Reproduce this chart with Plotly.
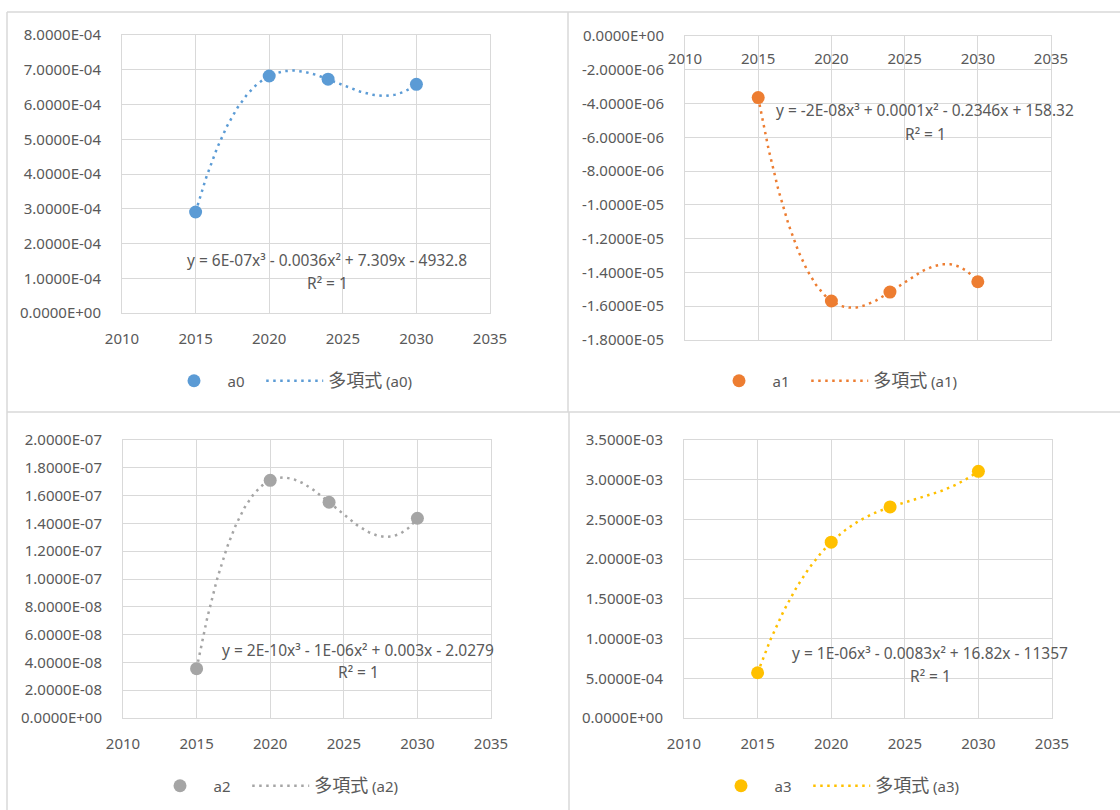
import numpy as np
import plotly.graph_objects as go

years = [2015, 2020, 2024, 2030]
a0 = [2.906e-4, 6.82e-4, 6.73e-4, 6.58e-4]
a1 = [-3.647e-6, -1.569e-5, -1.516e-5, -1.455e-5]
a2 = [3.545e-8, 1.710e-7, 1.552e-7, 1.437e-7]
a3 = [5.70e-4, 2.213e-3, 2.657e-3, 3.106e-3]

names = ["a0", "a1", "a2", "a3"]
colors = ["#5B9BD5", "#ED7D31", "#A5A5A5", "#FFC000"]
equations = [
    "y = 6E-07x³ - 0.0036x² + 7.309x - 4932.8",
    "y = -2E-08x³ + 0.0001x² - 0.2346x + 158.32",
    "y = 2E-10x³ - 1E-06x² + 0.003x - 2.0279",
    "y = 1E-06x³ - 0.0083x² + 16.82x - 11357",
]
x_ticks = [2010, 2015, 2020, 2025, 2030, 2035]
y_ticks = [
    [0, 1e-4, 2e-4, 3e-4, 4e-4, 5e-4, 6e-4, 7e-4, 8e-4],
    [0, -2e-6, -4e-6, -6e-6, -8e-6, -1e-5, -1.2e-5, -1.4e-5, -1.6e-5, -1.8e-5],
    [0, 2e-8, 4e-8, 6e-8, 8e-8, 1e-7, 1.2e-7, 1.4e-7, 1.6e-7, 1.8e-7, 2e-7],
    [0, 5e-4, 1e-3, 1.5e-3, 2e-3, 2.5e-3, 3e-3, 3.5e-3],
]
y_ranges = [[0, 8e-4], [-1.8e-5, 0], [0, 2e-7], [0, 3.5e-3]]

W, H = 1120, 810
# plot area pixel boxes (x0, x1, ytop, ybottom)
boxes = [(122, 490, 35, 313), (685, 1051, 36, 340), (123, 491, 440, 718), (684, 1052, 440, 718)]
eq_pos = [(327, 260, 283), (925, 110, 134), (358, 650, 672), (930, 653, 676)]
leg_pos = [(289, 381), (834, 381), (275, 786), (836, 786)]

FONT = "Noto Sans, Noto Sans CJK JP, sans-serif"
TXT = "#595959"
GRID = "#D9D9D9"
FS = 15
PAD = "\u00a0" * 3

fig = go.Figure()
series = [a0, a1, a2, a3]
for i, (name, vals, col) in enumerate(zip(names, series, colors)):
    xa = "x" if i == 0 else f"x{i+1}"
    ya = "y" if i == 0 else f"y{i+1}"
    lg = "legend" if i == 0 else f"legend{i+1}"
    xs = np.array(years, dtype=float)
    coef = np.polyfit(xs - 2020, np.array(vals), 3)
    xx = np.linspace(years[0], years[-1], 200)
    yy = np.polyval(coef, xx - 2020)
    fig.add_trace(go.Scatter(x=years, y=vals, mode="markers", name=name + PAD,
                             marker=dict(color=col, size=13),
                             xaxis=xa, yaxis=ya, legend=lg))
    fig.add_trace(go.Scatter(x=xx, y=yy, mode="lines",
                             name=f'<span style="font-size:18px">多項式</span> ({name})',
                             line=dict(color=col, width=2.5, dash="2.5px,4.5px"),
                             xaxis=xa, yaxis=ya, legend=lg))

# helper invisible trace for the top-placed tick labels of panel 2
fig.add_trace(go.Scatter(x=[2010, 2035], y=[0, 0], mode="markers", marker=dict(opacity=0),
                         showlegend=False, hoverinfo="skip", xaxis="x5", yaxis="y2"))

layout = dict(
    width=W, height=H, margin=dict(l=0, r=0, t=0, b=0, autoexpand=False),
    paper_bgcolor="white", plot_bgcolor="white",
    font=dict(family=FONT, size=FS, color=TXT),
    showlegend=True,
)
for i in range(4):
    x0, x1, yt, yb = boxes[i]
    xk = "xaxis" if i == 0 else f"xaxis{i+1}"
    yk = "yaxis" if i == 0 else f"yaxis{i+1}"
    ya = "y" if i == 0 else f"y{i+1}"
    xa = "x" if i == 0 else f"x{i+1}"
    xd = dict(domain=[x0 / W, x1 / W], anchor=ya, range=[2010, 2035],
              tickvals=x_ticks, ticktext=[str(t) for t in x_ticks],
              showgrid=True, gridcolor=GRID, gridwidth=1,
              showline=True, linecolor=GRID, linewidth=1, mirror=True,
              zeroline=False, ticks="", tickfont=dict(size=FS, color=TXT),
              ticklabelstandoff=12, automargin=False)
    if i == 1:
        xd.update(showticklabels=False)
    layout[xk] = xd
    layout[yk] = dict(domain=[1 - yb / H, 1 - yt / H], anchor=xa, range=y_ranges[i],
                      tickvals=y_ticks[i], ticktext=[f"{v:.4E}" for v in y_ticks[i]],
                      showgrid=True, gridcolor=GRID, gridwidth=1,
                      showline=True, linecolor=GRID, linewidth=1, mirror=True,
                      zeroline=False, ticks="", tickfont=dict(size=FS, color=TXT),
                      ticklabelstandoff=17, automargin=False)
    lk = "legend" if i == 0 else f"legend{i+1}"
    lx, ly = leg_pos[i]
    layout[lk] = dict(orientation="h", x=lx / W, y=1 - ly / H, xanchor="center", yanchor="middle",
                      xref="paper", yref="paper", bgcolor="rgba(0,0,0,0)",
                      font=dict(size=FS, color=TXT), itemwidth=57)

x0, x1, yt, yb = boxes[1]
layout["xaxis5"] = dict(domain=[x0 / W, x1 / W], anchor="free", position=1 - yt / H,
                        overlaying="x2", side="bottom", range=[2010, 2035],
                        tickvals=x_ticks, ticktext=[str(t) for t in x_ticks],
                        showgrid=False, showline=False, zeroline=False, ticks="",
                        tickfont=dict(size=FS, color=TXT), ticklabelstandoff=12, automargin=False)
fig.update_layout(**layout)

for i in range(4):
    ex, ey1, ey2 = eq_pos[i]
    fig.add_annotation(x=ex / W, y=1 - ey1 / H, xref="paper", yref="paper", text=equations[i],
                       showarrow=False, font=dict(size=15.5, color=TXT), xanchor="center", yanchor="middle")
    fig.add_annotation(x=ex / W, y=1 - ey2 / H, xref="paper", yref="paper", text="R² = 1",
                       showarrow=False, font=dict(size=15.5, color=TXT), xanchor="center", yanchor="middle")

# chart panel borders
BORDER = "#D9D9D9"
lines = [
    (7, 12, 1120, 12), (7, 12, 7, 810), (568, 12, 568, 412), (569, 412, 569, 810), (7, 412, 1120, 412),
]
for (ax0, ay0, ax1, ay1) in lines:
    fig.add_shape(type="line", xref="paper", yref="paper",
                  x0=ax0 / W, y0=1 - ay0 / H, x1=ax1 / W, y1=1 - ay1 / H,
                  line=dict(color=BORDER, width=1.5))

fig.write_html("out.html", config={"displayModeBar": False},
               post_script="document.body.style.margin='0';document.body.style.overflow='hidden';")
